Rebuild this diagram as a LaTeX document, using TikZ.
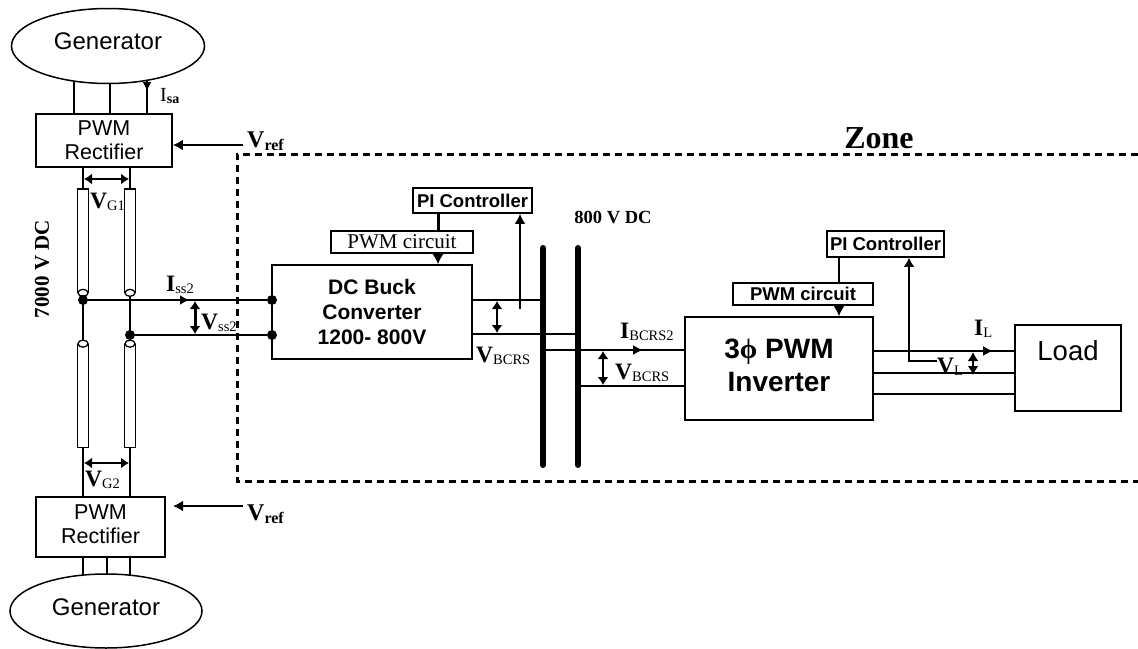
\documentclass[tikz,border=0pt]{standalone}
\usepackage{fontspec}
\setmainfont{Liberation Serif}
\newfontfamily\arialf{Liberation Sans}
\usetikzlibrary{arrows.meta,shapes.geometric,calc}
\newcommand\vlab[3]{{\fontsize{#3}{#3}\selectfont\bfseries #1}\raisebox{-0.25em}{\fontsize{14.5}{15}\selectfont #2}}
\newcommand\vlabb[3]{{\fontsize{#3}{#3}\selectfont\bfseries #1}\raisebox{-0.25em}{\fontsize{16}{16}\selectfont\bfseries #2}}
\newcommand\stk[2]{\raisebox{#1}{\begin{tabular}{@{}c@{}}#2\end{tabular}}}
\tikzset{
  wire/.style={line width=1.7pt,black},
  arr/.style={wire,line width=2pt,-{Latex[length=10pt,width=11pt]}},
  darr/.style={wire,line width=2.4pt,{Latex[length=8pt,width=11pt]}-{Latex[length=8pt,width=11pt]}},
  blockbox/.style={draw,line width=1.7pt,fill=white,inner sep=0pt,align=center,font=\arialf\fontsize{21.5}{24}\selectfont},
  smallbox/.style={blockbox,font=\arialf\bfseries\fontsize{18.5}{20}\selectfont},
  gen/.style={draw,ellipse,line width=1.5pt,fill=white,inner sep=0pt,font=\arialf\fontsize{24}{26}\selectfont},
  tube/.style={draw,line width=1.7pt,fill=white,inner sep=0pt,minimum width=11pt},
  tubecap/.style={draw,ellipse,line width=1.3pt,fill=white,inner sep=0pt,minimum width=10pt,minimum height=7pt},
  dot/.style={circle,fill=black,inner sep=0pt,minimum size=10pt},
  bar/.style={line width=6pt,line cap=round},
  lab/.style={inner sep=0pt,anchor=west},
  zone/.style={line width=3pt,dash pattern=on 7pt off 5pt},
}
\begin{document}
\begin{tikzpicture}[x=1pt,y=-1pt]
\useasboundingbox (0,0) rectangle (1138,648);
\fill[white] (0,0) rectangle (1138,648);
% zone
\coordinate (za) at (1138,154);\coordinate (zb) at (237,154);\coordinate (zc) at (237,481);\coordinate (zd) at (1138,481);
\draw[zone] (za) -- (zb) -- (zc) -- (zd);
% generators and rectifiers
\node[gen,minimum width=193pt,minimum height=75pt] (g1) at (108,46) {\raisebox{10pt}{Generator}};
\node[gen,minimum width=192pt,minimum height=74pt] (g2) at (106,611) {\raisebox{8pt}{Generator}};
\node[blockbox,minimum width=136pt,minimum height=53pt] (r1) at (104,140.5) {PWM\\Rectifier};
\node[blockbox,minimum width=129pt,minimum height=60pt] (r2) at (100.5,527) {\stk{3pt}{PWM\\Rectifier}};
\coordinate (g1a) at (74,81);\coordinate (g1b) at (110,83);\coordinate (g1c) at (147,80);
\coordinate (g2a) at (83,575);\coordinate (g2b) at (107,574);\coordinate (g2c) at (130,575);
\foreach \p in {g1a,g1b,g1c} \draw[wire] (\p) -- (\p |- r1.north);
\foreach \p in {g2a,g2b,g2c} \draw[wire] (\p) -- (\p |- r2.south);
\coordinate (g1tip) at (147,91);
\draw[wire,-{Latex[length=9pt,width=9pt]}] (g1c) -- (g1tip);
% tubes
\node[tube,minimum height=103pt] (t1) at (83,240.5) {};
\node[tube,minimum height=103pt] (t2) at (130,240.5) {};
\node[tube,minimum height=103pt] (t3) at (83,396) {};
\node[tube,minimum height=103pt] (t4) at (130,396) {};
\node[tubecap] (c1) at (t1.south) {};\node[tubecap] (c2) at (t2.south) {};
\node[tubecap] (c3) at (t3.north) {};\node[tubecap] (c4) at (t4.north) {};
\draw[wire] (r1.south -| t1) -- (t1.north);
\draw[wire] (r1.south -| t2) -- (t2.north);
\draw[wire] (t3.south) -- (r2.north -| t3);
\draw[wire] (t4.south) -- (r2.north -| t4);
\draw[wire] (c1.south) -- (c3.north);
\draw[wire] (c2.south) -- (c4.north);
\coordinate (va) at (84,179);\coordinate (vb) at (129,179);
\draw[darr] (va) -- (vb);
\coordinate (vc) at (84,463);\coordinate (vd) at (129,463);
\draw[darr] (vc) -- (vd);
\node[lab] (lg1) at (90,202) {\vlab{V}{G1}{23.5}};
\node[lab] (lg2) at (85,480) {\vlab{V}{G2}{23.5}};
% Vref
\node[lab] (vr1) at (247,141) {\vlabb{V}{ref}{24}};
\node[lab] (vr2) at (247,514) {\vlabb{V}{ref}{24}};
\coordinate (vr1a) at (243,145);
\draw[arr] (vr1a) -- (r1.east |- vr1a);
\coordinate (vr2a) at (243,506);\coordinate (vr2b) at (173,506);
\draw[arr] (vr2a) -- (vr2b);
\node[lab] (isa) at (160,96) {{\fontsize{20}{20}\selectfont I}\raisebox{-0.25em}{\fontsize{14}{14}\selectfont\bfseries sa}};
\node[rotate=90,inner sep=0pt,font=\bfseries\fontsize{21}{21}\selectfont] (v7) at (42,269) {7000 V DC};
\node[inner sep=0pt,font=\bfseries\fontsize{32}{32}\selectfont] (zl) at (879,138) {Zone};
% buck
\node[blockbox,font=\arialf\bfseries\fontsize{21}{25}\selectfont,minimum width=200pt,minimum height=94pt] (buck) at (372,312) {DC Buck\\Converter\\1200- 800V};
\node[smallbox,minimum width=119pt,minimum height=25pt] (pi1) at (472.5,200.5) {PI Controller};
\node[blockbox,font=\fontsize{21}{21}\selectfont,minimum width=142pt,minimum height=22pt] (pw1) at (402,242) {PWM circuit};
\coordinate (pi1d) at (438,213);
\draw[wire,line width=3pt] (pi1.south -| pi1d) -- (pw1.north -| pi1d);
\draw[arr] (pw1.south -| pi1d) -- (buck.north -| pi1d);
% input from bus
\node[dot] (d1) at (83,300) {};
\node[dot] (d2) at (130,335) {};
\node[dot] (d3) at (272,300) {};
\node[dot] (d4) at (272,335) {};
\draw[wire,line width=2.2pt] (d1) -- (d3);
\draw[wire,line width=2.2pt] (d2) -- (d4);
\coordinate (im) at (189,300);
\draw[wire,-{Latex[length=9pt,width=10pt]}] ($(im)+(-8,0)$) -- (im);
\coordinate (vs1) at (195,301);\coordinate (vs2) at (195,334);
\draw[darr,line width=3pt] (vs1) -- (vs2);
\node[lab] (li) at (166,285) {\vlab{I}{ss2}{23.5}};
\node[lab] (lv) at (201,323) {\vlab{V}{ss2}{23.5}};
% bars
\coordinate (b1t) at (543,248);\coordinate (b1b) at (543,465);
\coordinate (b2t) at (578,248);\coordinate (b2b) at (578,465);
\draw[bar] (b1t) -- (b1b);
\draw[bar] (b2t) -- (b2b);
\node[inner sep=0pt,font=\bfseries\fontsize{18.5}{18.5}\selectfont] (l800) at (613,217) {800 V DC};
\coordinate (bo1) at (543,300);\coordinate (bo2) at (578,334);
\draw[wire] (buck.east |- bo1) -- (bo1);
\draw[wire] (buck.east |- bo2) -- (bo2);
\coordinate (fb1) at (520,309);
\draw[arr] (fb1) -- (pi1.south -| fb1);
\coordinate (vb1) at (497,301);\coordinate (vb2) at (497,333);
\draw[darr] (vb1) -- (vb2);
\node[lab] (lb1) at (476,356) {\vlab{V}{BCRS}{23.5}};
% inverter
\node[blockbox,font=\arialf\bfseries\fontsize{28}{33}\selectfont,minimum width=188pt,minimum height=103pt] (inv) at (779,368.5) {\stk{10pt}{3{\rmfamily\bfseries ϕ} PWM\\Inverter}};
\node[smallbox,minimum width=117pt,minimum height=26pt] (pi2) at (885.5,244) {PI Controller};
\node[smallbox,minimum width=140pt,minimum height=22pt] (pw2) at (803,294) {PWM circuit};
\coordinate (pi2d) at (839,257);
\draw[wire] (pi2.south -| pi2d) -- (pw2.north -| pi2d);
\draw[arr] (pw2.south -| pi2d) -- (inv.north -| pi2d);
\coordinate (bi1) at (546,350);\coordinate (bi2) at (578,386);
\draw[wire] (bi1) -- (inv.west |- bi1);
\draw[wire] (bi2) -- (inv.west |- bi2);
\coordinate (ia) at (640,350);
\draw[wire,-{Latex[length=10pt,width=10pt]}] ($(ia)-(10,0)$) -- ($(ia)+(3,0)$);
\coordinate (vi1) at (603,351);\coordinate (vi2) at (603,385);
\draw[darr] (vi1) -- (vi2);
\node[lab] (lb2) at (620,332) {\vlab{I}{BCRS2}{23.5}};
\node[lab] (lb3) at (615,373) {\vlab{V}{BCRS}{23.5}};
% load
\node[blockbox,font=\arialf\fontsize{27.5}{27.5}\selectfont,minimum width=106pt,minimum height=86pt] (load) at (1068,368) {\raisebox{34pt}{Load}};
\coordinate (la) at (873,351);\coordinate (lb) at (873,373);\coordinate (lc) at (873,394);
\draw[wire,line width=2pt] (la) -- (load.west |- la);
\draw[wire] (lb) -- (load.west |- lb);
\draw[wire] (lc) -- (load.west |- lc);
\coordinate (ila) at (980,351);\coordinate (ilb) at (993,351);
\draw[wire,-{Latex[length=10pt,width=10pt]}] (ila) -- (ilb);
\coordinate (vl1) at (973,352);\coordinate (vl2) at (973,375);
\draw[darr,{Latex[length=9pt,width=11pt]}-{Latex[length=9pt,width=11pt]}] (vl1) -- (vl2);
\node[lab] (lil) at (974,329) {\vlab{I}{L}{23.5}};
\node[lab] (lvl) at (937,367) {\vlab{V}{L}{23.5}};
\coordinate (fbb) at (909,361);
\draw[wire,line width=2.2pt,-{Latex[length=9pt,width=11pt]}] (lvl.west |- fbb) -- (fbb) -- (pi2.south -| fbb);
\end{tikzpicture}
\end{document}
